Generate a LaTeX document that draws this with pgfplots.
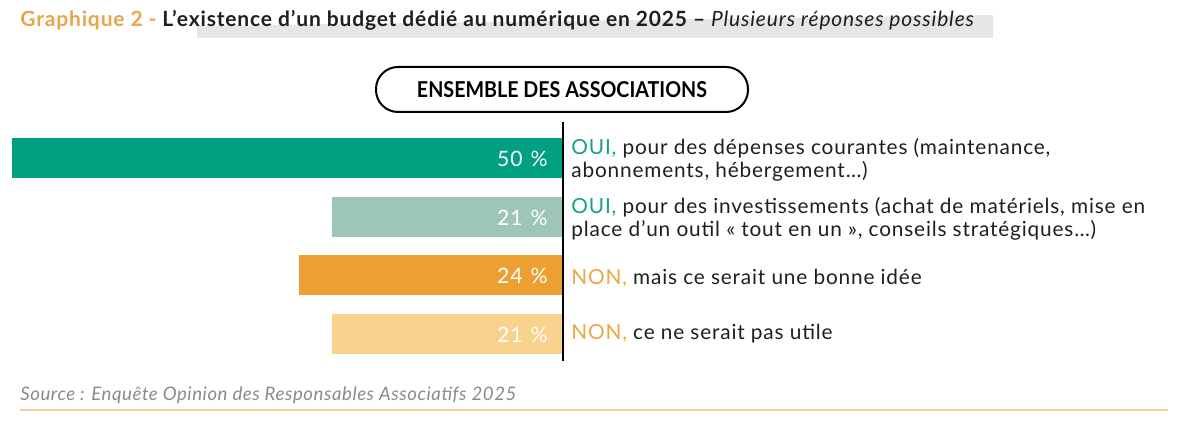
\documentclass[border=0pt]{standalone}
\usepackage{pgfplots}
\pgfplotsset{compat=1.18}
\usepackage{fontspec}
\setmainfont{Lato}

\definecolor{barA}{HTML}{00A081}
\definecolor{barB}{HTML}{9DC5B9}
\definecolor{barC}{HTML}{ECA033}
\definecolor{barD}{HTML}{F9D38D}
\definecolor{ouiC}{HTML}{17A088}
\definecolor{nonC}{HTML}{EBA642}
\definecolor{titleO}{HTML}{E8A54B}
\definecolor{ink}{HTML}{1F1F1F}
\definecolor{hl}{HTML}{E6E7E5}
\definecolor{srcgray}{HTML}{8A8A8A}
\definecolor{rule}{HTML}{F2D19C}

\newcommand\lab{\fontsize{10.4}{12}\selectfont\addfontfeature{LetterSpace=4}\color{ink}}

\begin{document}
\begin{tikzpicture}
% picture frame, in pixels of the reference (y downwards)
\begin{scope}[x=0.5pt,y=-0.5pt]
\path[use as bounding box] (0,0) rectangle (1185,422);
\fill[hl] (197,26) -- (993,15) -- (993,38) -- (197,38) -- cycle;
\node[anchor=base west, inner sep=0, font=\fontsize{10.5}{12}\selectfont\bfseries\addfontfeature{LetterSpace=4}] at (20,27)
  {\textcolor{titleO}{Graphique 2 -} \textcolor{ink}{L'existence d'un budget dédié au numérique en 2025 –} \textcolor{ink}{\mdseries\itshape\addfontfeature{LetterSpace=4} Plusieurs réponses possibles}};
\draw[line width=1pt, rounded corners=11pt] (376,67) rectangle (748,112);
\node[inner sep=0] at (562,90) {\resizebox{145pt}{8pt}{\bfseries ENSEMBLE DES ASSOCIATIONS}};
\node[anchor=base west, inner sep=0, font=\fontsize{9.3}{11}\selectfont\itshape\addfontfeature{LetterSpace=3}, text=srcgray] at (20,401)
  {Source : Enquête Opinion des Responsables Associatifs 2025};
\draw[rule, line width=1pt] (20,410) -- (1168,410);
\end{scope}

\begin{axis}[
    at={(0pt,-181.375pt)}, anchor=south west,
    scale only axis, width=281.5pt, height=117pt,
    xmin=0, xmax=51.09, ymin=-0.5, ymax=3.5,
    x dir=reverse, y dir=reverse,
    axis lines=none, ticks=none, clip=false,
    bar width=20pt,
]
\addplot[xbar, bar shift=0pt, fill=barA, draw=none] coordinates {(50,0)};
\addplot[xbar, bar shift=0pt, fill=barB, draw=none] coordinates {(21,1)};
\addplot[xbar, bar shift=0pt, fill=barC, draw=none] coordinates {(24,2)};
\addplot[xbar, bar shift=0pt, fill=barD, draw=none] coordinates {(21,3)};
\addplot[only marks, mark=none, point meta=explicit symbolic, nodes near coords,
    nodes near coords style={anchor=base east, inner sep=0, text=white,
      font=\fontsize{10.6}{12}\selectfont\addfontfeature{LetterSpace=4}, yshift=-4.3pt}]
  coordinates {(1.36,0) [50\hspace{4pt}\%] (1.36,1) [21\hspace{4pt}\%] (1.36,2) [24\hspace{4pt}\%] (1.36,3) [21\hspace{4pt}\%]};
\end{axis}

\begin{scope}[x=0.5pt,y=-0.5pt]
\draw[line width=1pt, black] (563,122) -- (563,361);
\node[anchor=base west, inner sep=0, font=\lab] at (571,155) {\textcolor{ouiC}{OUI,} pour des dépenses courantes (maintenance,};
\node[anchor=base west, inner sep=0, font=\lab] at (571,178) {abonnements, hébergement…)};
\node[anchor=base west, inner sep=0, font=\lab] at (571,214) {\textcolor{ouiC}{OUI,} pour des investissements (achat de matériels, mise en};
\node[anchor=base west, inner sep=0, font=\lab] at (571,237) {place d'un outil « tout en un », conseils stratégiques…)};
\node[anchor=base west, inner sep=0, font=\lab] at (571,285) {\textcolor{nonC}{NON,} mais ce serait une bonne idée};
\node[anchor=base west, inner sep=0, font=\lab] at (571,340) {\textcolor{nonC}{NON,} ce ne serait pas utile};
\end{scope}
\end{tikzpicture}
\end{document}
